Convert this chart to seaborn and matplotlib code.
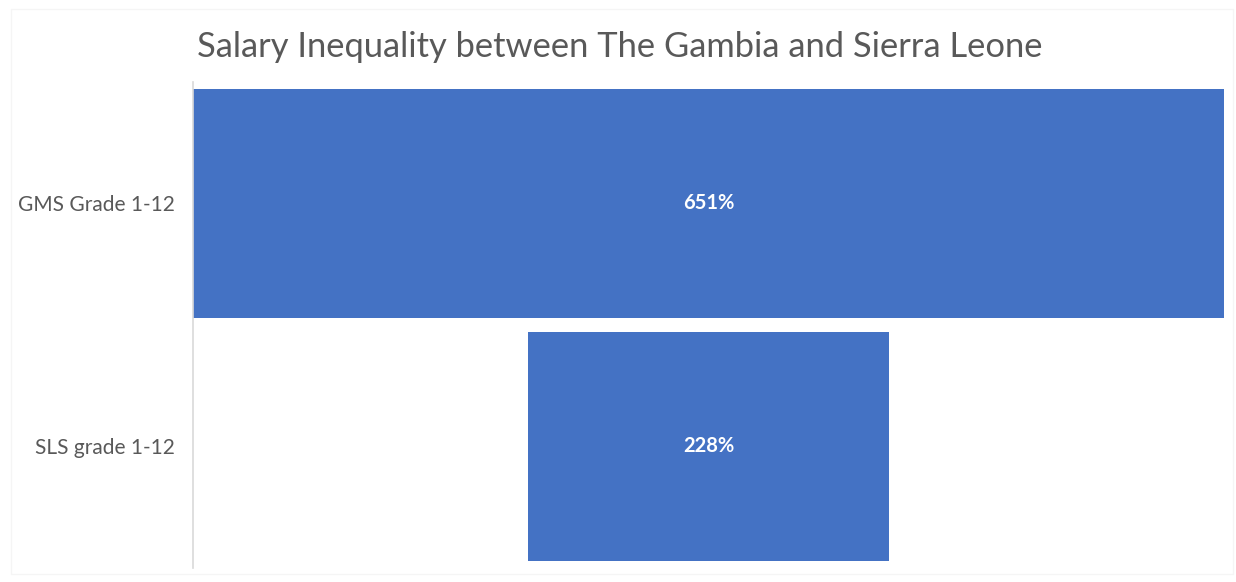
import matplotlib
matplotlib.use("Agg")
import matplotlib.pyplot as plt
import seaborn as sns
import pandas as pd
from matplotlib.patches import Rectangle

# Funnel data: salary inequality (%) per grade scale
categories = ["GMS Grade 1-12", "SLS grade 1-12"]
values = [651, 228]
value_labels = ["651%", "228%"]

title = "Salary Inequality between The Gambia and Sierra Leone"
bar_color = "#4472C4"
text_gray = "#595959"

sns.set_theme(style="white")
plt.rcParams["font.family"] = ["Lato", "DejaVu Sans"]

df = pd.DataFrame({"category": categories, "value": values, "label": value_labels})
# Center every bar on the widest one to build the funnel shape
df["offset"] = (df["value"].max() - df["value"]) / 2

fig = plt.figure(figsize=(12.36, 5.82), dpi=100)
ax = fig.add_axes([193 / 1236, 1 - 568 / 582, (1224 - 193) / 1236, (568 - 82) / 582])

# Draw the bars through seaborn, then shift each one to its centered offset
sns.barplot(data=df, x="value", y="category", orient="h", color=bar_color,
            saturation=1, width=0.942, ax=ax, edgecolor="none")
for patch, off in zip(ax.patches, df["offset"]):
    patch.set_x(off)

for i, row in df.iterrows():
    ax.text(row["offset"] + row["value"] / 2, i, row["label"], ha="center", va="center",
            color="white", fontsize=14.5, fontweight="bold")

ax.set_xlim(0, df["value"].max())
ax.set_ylim(1.5, -0.5)
ax.set_xlabel("")
ax.set_ylabel("")
ax.set_xticks([])
ax.tick_params(axis="y", length=0, pad=13, labelsize=15, labelcolor=text_gray)
for side in ["top", "right", "bottom"]:
    ax.spines[side].set_visible(False)
ax.spines["left"].set_color("#d9d9d9")
ax.spines["left"].set_linewidth(1.2)

fig.text(197 / 1236, 1 - 47 / 582, title, ha="left", va="center",
         fontsize=24.8, color=text_gray)

# Faint chart-area border
fig.patches.append(Rectangle((11 / 1236, 1 - 574 / 582), (1233 - 11) / 1236, (574 - 9) / 582,
                             transform=fig.transFigure, fill=False,
                             edgecolor="#f5f5f5", linewidth=1))

fig.savefig("out.png", dpi=100)
